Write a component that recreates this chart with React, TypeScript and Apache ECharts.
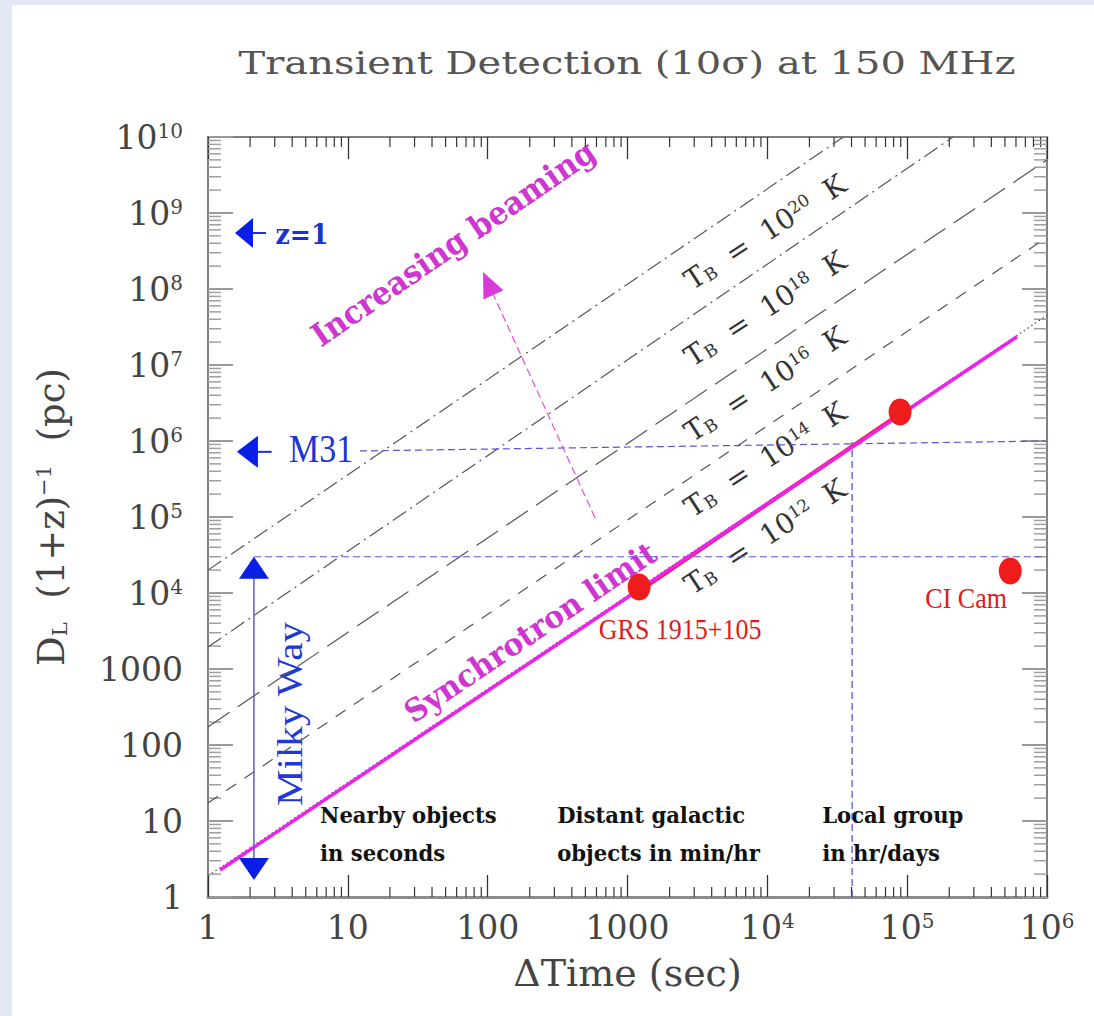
import React, { useEffect, useRef } from 'react';
import * as echarts from 'echarts';

const L = (v: number) => Math.log10(v);

// ---- tick labels (decades) ----
const xTickLabels = ['1', '10', '100', '1000', '10^4', '10^5', '10^6'];
const yTickLabels = ['1', '10', '100', '1000', '10^4', '10^5', '10^6', '10^7', '10^8', '10^9', '10^10'];

// ---- lines of constant brightness temperature: [Δt (s), D (pc)] end points ----
const tb20Line = [[1, 2.0e4], [3.5e4, 1e10]];
const tb18Line = [[1, 1.95e3], [2.13e5, 1e10]];
const tb16Line = [[1, 173], [1e6, 5.0e9]];
const tb14Line = [[1, 17.3], [1e6, 4.8e8]];
const tb12Line = [[1, 1.9], [1e6, 4.5e7]];
const synchrotronLimit = [[1.22, 2.27], [6.1e5, 2.35e7]];

// ---- sources ----
const grsTrack = [[1250, 1.1e4], [8.5e4, 2.15e6]];
const grsPoints = [[1211, 1.2e4], [8.9e4, 2.41e6]];
const ciCamPoint = [[5.46e5, 1.95e4]];

// ---- reference distances ----
const m31Line = [[12.2, 7.4e5], [1e6, 1.0e6]];
const milkyWayLine = [[2.13, 3.0e4], [1e6, 3.0e4]];
const localGroupLine = [[4.04e4, 1], [4.04e4, 9.7e5]];

// ---- arrows [from, to] ----
const milkyWayArrow = [[2.13, 1.67], [2.13, 3.0e4]];
const m31Arrow = [[2.85, 7.2e5], [1.61, 7.2e5]];
const z1Arrow = [[2.6, 5.46e8], [1.56, 5.46e8]];
const beamingArrow = [[586, 9.7e4], [92.7, 1.67e8]];

// ---- annotation anchors [Δt, D] ----
const tbExponents = ['20', '18', '16', '14', '12'];
const tbLabelAt = [[9650, 5.6e8], [9650, 5.5e7], [9650, 5.6e6], [9650, 5.7e5], [9650, 5.5e4]];
const beamingTextAt = [56.6, 4.0e8];
const synchTextAt = [201, 3070];
const grsTextAt = [2378, 3360];
const ciCamTextAt = [2.64e5, 8600];
const m31TextAt = [6.43, 7.85e5];
const z1TextAt = [4.7, 5.3e8];
const milkyWayTextAt = [3.86, 256];
const regionTexts = ['Nearby objects\nin seconds', 'Distant galactic\nobjects in min/hr', 'Local group\nin hr/days'];
const regionTextAt = [[6.33, 6.75], [314, 6.75], [2.47e4, 6.75]];

const TITLE = 'Transient Detection (10σ) at 150 MHz';

const toLog = (pts: number[][]) => pts.map((p) => [L(p[0]), L(p[1])]);
const seg = (pts: number[][]) => [[L(pts[0][0]), L(pts[0][1]), L(pts[1][0]), L(pts[1][1])]];

const SERIF = 'DejaVu Serif';
const TIMES = 'Liberation Serif';

const tickRich = {
  n: { fontFamily: SERIF, fontSize: 33, color: '#444' },
  s: { fontFamily: SERIF, fontSize: 20, color: '#444', verticalAlign: 'top' },
};

const fmt = (labels: string[]) => (v: number) => {
  const s = labels[Math.round(v)];
  if (s === undefined) return '';
  const [b, e] = s.split('^');
  return e ? `{n|${b}}{s|${e}}` : `{n|${b}}`;
};

// minor tick positions (2..9 within each decade), in log units
const minorLogs = (decades: number) => {
  const out: number[] = [];
  for (let k = 0; k < decades; k++) for (let m = 2; m <= 9; m++) out.push(k + L(m));
  return out;
};

const tickRender = (color: string, width: number) => (params: any, api: any) => {
  const p = api.coord([api.value(0), api.value(1)]);
  const dir = api.value(2);
  const len = api.value(3);
  let x2 = p[0];
  let y2 = p[1];
  if (dir === 0) y2 -= len;
  else if (dir === 1) y2 += len;
  else if (dir === 2) x2 += len;
  else x2 -= len;
  return { type: 'line', shape: { x1: p[0], y1: p[1], x2, y2 }, style: { stroke: color, lineWidth: width } };
};

const arrowRender = (o: any) => (params: any, api: any) => {
  const a = api.coord([api.value(0), api.value(1)]);
  const b = api.coord([api.value(2), api.value(3)]);
  const dx = b[0] - a[0];
  const dy = b[1] - a[1];
  const len = Math.hypot(dx, dy) || 1;
  const ux = dx / len;
  const uy = dy / len;
  const nx = -uy;
  const ny = ux;
  const head = (tip: number[], sx: number, sy: number) => {
    const bx = tip[0] - sx * o.headLen;
    const by = tip[1] - sy * o.headLen;
    return {
      type: 'polygon',
      shape: {
        points: [
          [tip[0], tip[1]],
          [bx + (nx * o.headW) / 2, by + (ny * o.headW) / 2],
          [bx - (nx * o.headW) / 2, by - (ny * o.headW) / 2],
        ],
      },
      style: { fill: o.headColor },
    };
  };
  const s = o.both ? [a[0] + ux * o.headLen * 0.7, a[1] + uy * o.headLen * 0.7] : a;
  const e = [b[0] - ux * o.headLen * 0.7, b[1] - uy * o.headLen * 0.7];
  const children: any[] = [
    {
      type: 'line',
      shape: { x1: s[0], y1: s[1], x2: e[0], y2: e[1] },
      style: { stroke: o.lineColor, lineWidth: o.lineWidth, lineDash: o.dash || null },
    },
    head(b, ux, uy),
  ];
  if (o.both) children.push(head(a, -ux, -uy));
  return { type: 'group', children };
};

const lineSeries = (name: string, pts: number[][], color: string, width: number, type: any, z = 3) => ({
  name,
  type: 'line',
  data: toLog(pts),
  showSymbol: false,
  symbol: 'none',
  silent: true,
  z,
  lineStyle: { color, width, type },
});

const arrowSeries = (name: string, pts: number[][], o: any) => ({
  name,
  type: 'custom',
  silent: true,
  z: 6,
  dimensions: ['x1', 'y1', 'x2', 'y2'],
  encode: { x: [0, 2], y: [1, 3] },
  data: seg(pts),
  renderItem: arrowRender(o),
});

function buildOption() {
  const mx = minorLogs(6);
  const my = minorLogs(10);
  const xTicks: number[][] = [];
  mx.forEach((v) => {
    xTicks.push([v, 0, 0, 10]);
    xTicks.push([v, 10, 1, 10]);
  });
  const yTicks: number[][] = [];
  my.forEach((v) => {
    yTicks.push([0, v, 2, 13]);
    yTicks.push([6, v, 3, 13]);
  });

  const axisNameStyle = { fontFamily: SERIF, fontSize: 38, color: '#444' };

  return {
    animation: false,
    backgroundColor: '#ffffff',
    grid: { left: 196, right: 47, top: 132, bottom: 119, containLabel: false, outerBoundsMode: 'none' },
    xAxis: [
      {
        type: 'value',
        position: 'bottom',
        min: 0,
        max: 6,
        interval: 1,
        axisLine: { show: true, onZero: false, lineStyle: { color: '#8c8c8c', width: 3 } },
        axisTick: { show: true, inside: true, length: 22, lineStyle: { color: '#333', width: 1.3 } },
        axisLabel: { show: true, margin: 14, formatter: fmt(xTickLabels), rich: tickRich, showMinLabel: true, showMaxLabel: true },
        splitLine: { show: false },
        name: 'ΔTime (sec)',
        nameLocation: 'middle',
        nameGap: 57,
        nameTextStyle: axisNameStyle,
      },
      {
        type: 'value',
        position: 'top',
        min: 0,
        max: 6,
        interval: 1,
        axisLine: { show: true, onZero: false, lineStyle: { color: '#555', width: 1.5 } },
        axisTick: { show: true, inside: true, length: 22, lineStyle: { color: '#333', width: 1.3 } },
        axisLabel: { show: false },
        splitLine: { show: false },
      },
    ],
    yAxis: [
      {
        type: 'value',
        position: 'left',
        min: 0,
        max: 10,
        interval: 1,
        axisLine: { show: true, onZero: false, lineStyle: { color: '#555', width: 1.5 } },
        axisTick: { show: true, inside: true, length: 25, lineStyle: { color: '#9a9a9a', width: 2 } },
        axisLabel: { show: true, margin: 25, formatter: fmt(yTickLabels), rich: tickRich, showMinLabel: true, showMaxLabel: true },
        splitLine: { show: false },
        name: '{m|D}{b|L}{m|  (1+z)}{s|−1}{m|  (pc)}',
        nameLocation: 'middle',
        nameGap: 138,
        nameRotate: 90,
        nameTextStyle: {
          ...axisNameStyle,
          rich: {
            m: { fontFamily: SERIF, fontSize: 37, color: '#444' },
            b: { fontFamily: SERIF, fontSize: 21, color: '#444', verticalAlign: 'bottom' },
            s: { fontFamily: SERIF, fontSize: 21, color: '#444', verticalAlign: 'top' },
          },
        },
      },
      {
        type: 'value',
        position: 'right',
        min: 0,
        max: 10,
        interval: 1,
        axisLine: { show: true, onZero: false, lineStyle: { color: '#555', width: 1.5 } },
        axisTick: { show: true, inside: true, length: 25, lineStyle: { color: '#9a9a9a', width: 2 } },
        axisLabel: { show: false },
        splitLine: { show: false },
      },
    ],
    series: [
      {
        name: 'x minor ticks',
        type: 'custom',
        silent: true,
        z: 1,
        dimensions: ['x', 'y', 'dir', 'len'],
        encode: { x: 0, y: 1 },
        data: xTicks,
        renderItem: tickRender('#333', 1.2),
      },
      {
        name: 'y minor ticks',
        type: 'custom',
        silent: true,
        z: 1,
        dimensions: ['x', 'y', 'dir', 'len'],
        encode: { x: 0, y: 1 },
        data: yTicks,
        renderItem: tickRender('#a0a0a0', 1.5),
      },
      lineSeries('T_B = 1e20 K', tb20Line, '#555', 1.2, [16, 5, 2, 5]),
      lineSeries('T_B = 1e18 K', tb18Line, '#555', 1.2, [16, 5, 2, 5]),
      lineSeries('T_B = 1e16 K', tb16Line, '#555', 1.2, [26, 10]),
      lineSeries('T_B = 1e14 K', tb14Line, '#555', 1.2, [12, 10]),
      lineSeries('T_B = 1e12 K', tb12Line, '#555', 1.2, [1.5, 3]),
      lineSeries('M31 distance', m31Line, '#5a55d6', 1.2, [7, 4]),
      lineSeries('Milky Way size', milkyWayLine, '#5a55d6', 1.2, [7, 4]),
      lineSeries('Local group timescale', localGroupLine, '#4a4ad8', 1.2, [7, 4]),
      lineSeries('GRS 1915+105 track', grsTrack, '#ee1c1c', 4, 'solid', 4),
      lineSeries('Synchrotron limit', synchrotronLimit, '#ee22ee', 3.5, 'solid', 5),
      {
        name: 'GRS 1915+105',
        type: 'scatter',
        silent: true,
        z: 6,
        symbol: 'circle',
        symbolSize: [23, 27],
        data: toLog(grsPoints),
        itemStyle: { color: '#ee1c1c', opacity: 1 },
      },
      {
        name: 'CI Cam',
        type: 'scatter',
        silent: true,
        z: 6,
        symbol: 'circle',
        symbolSize: [23, 27],
        data: toLog(ciCamPoint),
        itemStyle: { color: '#ee1c1c', opacity: 1 },
      },
      arrowSeries('Milky Way arrow', milkyWayArrow, {
        both: true, headLen: 22, headW: 30, headColor: '#0a1fe6', lineColor: '#5a5ae0', lineWidth: 1.5,
      }),
      arrowSeries('M31 arrow', m31Arrow, {
        both: false, headLen: 21, headW: 32, headColor: '#0a1fe6', lineColor: '#1a30e0', lineWidth: 2,
      }),
      arrowSeries('z=1 arrow', z1Arrow, {
        both: false, headLen: 18, headW: 30, headColor: '#0a1fe6', lineColor: '#1a30e0', lineWidth: 2,
      }),
      arrowSeries('Increasing beaming arrow', beamingArrow, {
        both: false, headLen: 25, headW: 22, headColor: '#d83cd8', lineColor: '#e050e0', lineWidth: 1.2, dash: [8, 4],
      }),
    ],
  };
}

export default function App() {
  const ref = useRef<HTMLDivElement>(null);

  useEffect(() => {
    if (!ref.current) return;
    const chart = echarts.init(ref.current, null, { renderer: 'svg' });
    chart.setOption(buildOption() as any);

    const px = (c: number[]) =>
      chart.convertToPixel({ xAxisIndex: 0, yAxisIndex: 0 } as any, [L(c[0]), L(c[1])]) as unknown as number[];
    const deg = Math.PI / 180;
    const elements: any[] = [];

    elements.push({
      type: 'text',
      x: 615,
      y: 58,
      scaleX: 1.25,
      style: { text: TITLE, fontFamily: SERIF, fontSize: 32, fill: '#555', align: 'center', verticalAlign: 'middle' },
    });

    const tbRich = {
      t: { fontFamily: SERIF, fontSize: 28, fill: '#333', color: '#333' },
      b: { fontFamily: SERIF, fontSize: 17, fill: '#333', color: '#333', verticalAlign: 'bottom' },
      s: { fontFamily: SERIF, fontSize: 17, fill: '#333', color: '#333', verticalAlign: 'top' },
    };
    tbLabelAt.forEach((c, i) => {
      const p = px(c);
      elements.push({
        type: 'text',
        x: p[0],
        y: p[1],
        rotation: 33 * deg,
        style: {
          text: `{t|T}{b|B}{t|  =  10}{s|${tbExponents[i]}}{t|  K}`,
          rich: tbRich,
          align: 'center',
          verticalAlign: 'middle',
        },
      });
    });

    const boldMagenta = { fontFamily: SERIF, fontWeight: 'bold', fontSize: 32, fill: '#cf35cf', align: 'center', verticalAlign: 'middle' };
    let p = px(beamingTextAt);
    elements.push({ type: 'text', x: p[0], y: p[1], rotation: 34.5 * deg, scaleX: 0.94, style: { ...boldMagenta, text: 'Increasing beaming' } });
    p = px(synchTextAt);
    elements.push({ type: 'text', x: p[0], y: p[1], rotation: 34 * deg, scaleX: 0.96, style: { ...boldMagenta, fontSize: 31, text: 'Synchrotron limit' } });

    p = px(grsTextAt);
    elements.push({ type: 'text', x: p[0], y: p[1], scaleY: 1.15, style: { text: 'GRS 1915+105', fontFamily: TIMES, fontSize: 26, fill: '#e01b1b', align: 'center', verticalAlign: 'middle' } });
    p = px(ciCamTextAt);
    elements.push({ type: 'text', x: p[0], y: p[1], scaleY: 1.15, style: { text: 'CI Cam', fontFamily: TIMES, fontSize: 26, fill: '#e01b1b', align: 'center', verticalAlign: 'middle' } });
    p = px(m31TextAt);
    elements.push({ type: 'text', x: p[0], y: p[1], scaleY: 1.15, style: { text: 'M31', fontFamily: TIMES, fontSize: 34, fill: '#1c33d8', align: 'center', verticalAlign: 'middle' } });
    p = px(z1TextAt);
    elements.push({ type: 'text', x: p[0], y: p[1], scaleX: 0.9, style: { text: 'z=1', fontFamily: SERIF, fontWeight: 'bold', fontSize: 28, fill: '#1a33d0', align: 'center', verticalAlign: 'middle' } });
    p = px(milkyWayTextAt);
    elements.push({ type: 'text', x: p[0], y: p[1], rotation: 90 * deg, scaleX: 1.14, style: { text: 'Milky Way', fontFamily: TIMES, fontSize: 36, fill: '#2038d8', align: 'center', verticalAlign: 'middle' } });

    regionTexts.forEach((t, i) => {
      const q = px(regionTextAt[i]);
      elements.push({
        type: 'text',
        x: q[0],
        y: q[1],
        scaleX: 0.92,
        style: { text: t, fontFamily: SERIF, fontWeight: 'bold', fontSize: 23, lineHeight: 38, fill: '#111', align: 'left', verticalAlign: 'middle' },
      });
    });

    chart.setOption({ graphic: { elements } } as any);
    return () => chart.dispose();
  }, []);

  return (
    <div style={{ position: 'fixed', left: 0, top: 0, width: 1094, height: 1016, background: '#e2e9f3' }}>
      <div ref={ref} style={{ position: 'absolute', left: 12, top: 5, width: 1082, height: 1011, background: '#ffffff' }} />
    </div>
  );
}
